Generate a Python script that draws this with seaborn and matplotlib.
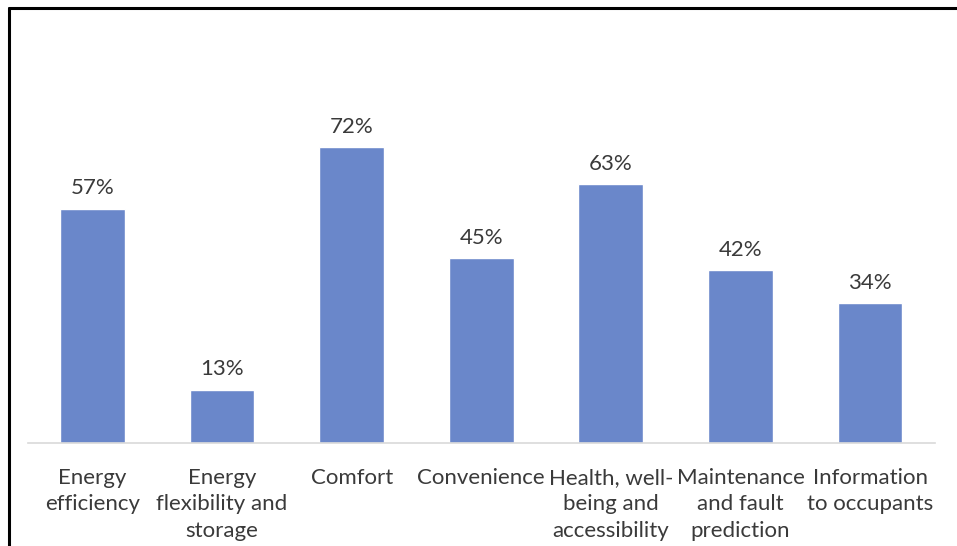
import matplotlib
matplotlib.use("Agg")
import matplotlib.pyplot as plt
from matplotlib.lines import Line2D
import seaborn as sns
import pandas as pd

categories = [
    "Energy\nefficiency",
    "Energy\nflexibility and\nstorage",
    "Comfort",
    "Convenience",
    "Health, well-\nbeing and\naccessibility",
    "Maintenance\nand fault\nprediction",
    "Information\nto occupants",
]
shares = [57, 13, 72, 45, 63, 42, 34]

sns.set_theme(style="white")
plt.rcParams["font.family"] = ["Lato", "DejaVu Sans"]

df = pd.DataFrame({"service": categories, "share": shares})

fig = plt.figure(figsize=(9.57, 5.46), dpi=100)
ax = fig.add_axes([0.0289, 0.1886, 0.948, 0.753])

sns.barplot(data=df, x="service", y="share", color="#6A87CA",
            saturation=1, width=0.5, ax=ax)

ax.set_xlim(-0.5, len(categories) - 0.5)
ax.set_ylim(0, 100)
ax.bar_label(ax.containers[0], labels=[f"{v}%" for v in shares],
             padding=7.5, fontsize=16, color="#3A3A3A")

ax.set_xlabel("")
ax.set_ylabel("")
ax.set_yticks([])
for side in ["top", "right", "left"]:
    ax.spines[side].set_visible(False)
ax.spines["bottom"].set_color("#D9D9D9")
ax.spines["bottom"].set_linewidth(1.2)
ax.tick_params(axis="x", length=0, pad=18, labelsize=16, labelcolor="#3A3A3A")
for lab in ax.get_xticklabels():
    lab.set_linespacing(1.4)
    lab.set_verticalalignment("top")

# frame lines along the top and left edge
fig.add_artist(Line2D([9 / 957, 1], [1 - 8 / 546, 1 - 8 / 546],
                      transform=fig.transFigure, color="black", lw=2.2))
fig.add_artist(Line2D([9 / 957, 9 / 957], [0, 1 - 8 / 546],
                      transform=fig.transFigure, color="black", lw=2.2))

fig.savefig("out.png", dpi=100)
